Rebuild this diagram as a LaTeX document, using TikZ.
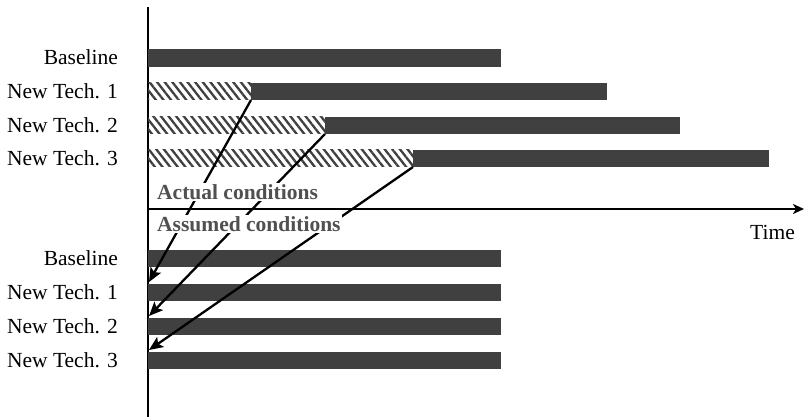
\documentclass[tikz,border=0pt]{standalone}
\usepackage{fontspec}
\setmainfont{Liberation Serif}
\usetikzlibrary{arrows.meta,patterns.meta}
\definecolor{bardark}{HTML}{404040}
\definecolor{notegray}{HTML}{505050}
\tikzset{
  bar/.style={fill=bardark},
  hatchbar/.style={pattern={Lines[angle=-52,distance=6pt,line width=2.3pt]},pattern color=bardark},
  rowlabel/.style={anchor=base east,inner sep=0pt,font=\fontsize{21.5}{24}\selectfont},
  note/.style={anchor=base west,inner sep=1.5pt,fill=white,text=notegray,font=\fontsize{21.5}{24}\selectfont\bfseries},
  axis/.style={line width=2.4pt,draw=black},
  pointer/.style={line width=2.3pt,-{Stealth[length=14pt,width=12pt,inset=3pt]}},
}
\begin{document}
\begin{tikzpicture}[x=1pt,y=-1pt]
\useasboundingbox[fill=white] (0,0) rectangle (806,417);

% axes
\draw[axis] (148,7) -- (148,417);
\draw[axis,-{Stealth[length=11pt,width=10pt,inset=3pt]}] (148,209) -- (804,209);

% actual conditions: hatched start-up period followed by operation
\fill[bar] (148,49) rectangle (501,67);
\fill[hatchbar] (148,83) rectangle (251,100);
\fill[bar] (251,83) rectangle (607,100);
\fill[hatchbar] (148,117) rectangle (325,134);
\fill[bar] (325,117) rectangle (680,134);
\fill[hatchbar] (148,150) rectangle (413,167);
\fill[bar] (413,150) rectangle (769,167);

% assumed conditions: all bars identical
\fill[bar] (148,250) rectangle (501,267);
\fill[bar] (148,284) rectangle (501,301);
\fill[bar] (148,318) rectangle (501,335);
\fill[bar] (148,352) rectangle (501,369);

% connector ends
\coordinate (c1) at (251,100);
\coordinate (c2) at (325,134);
\coordinate (c3) at (413,167);
\coordinate (t1) at (149,282);
\coordinate (t2) at (149,316);
\coordinate (t3) at (149,350);

\draw[pointer] (c1) -- (t1);
\draw[pointer] (c2) -- (t2);
\draw[pointer] (c3) -- (t3);

% row labels
\node[rowlabel] (lb0) at (118,65) {Baseline};
\node[rowlabel] (lb1) at (118,99) {New Tech. 1};
\node[rowlabel] (lb2) at (118,133) {New Tech. 2};
\node[rowlabel] (lb3) at (118,166) {New Tech. 3};
\node[rowlabel] (lc0) at (118,265) {Baseline};
\node[rowlabel] (lc1) at (118,299) {New Tech. 1};
\node[rowlabel] (lc2) at (118,333) {New Tech. 2};
\node[rowlabel] (lc3) at (118,367) {New Tech. 3};

% notes over the connectors
\node[note] (actual) at (155.5,199.5) {Actual conditions};
\node[note] (assumed) at (155.5,231) {Assumed conditions};

\node[rowlabel,anchor=base west] (time) at (750,239) {Time};
\end{tikzpicture}
\end{document}
